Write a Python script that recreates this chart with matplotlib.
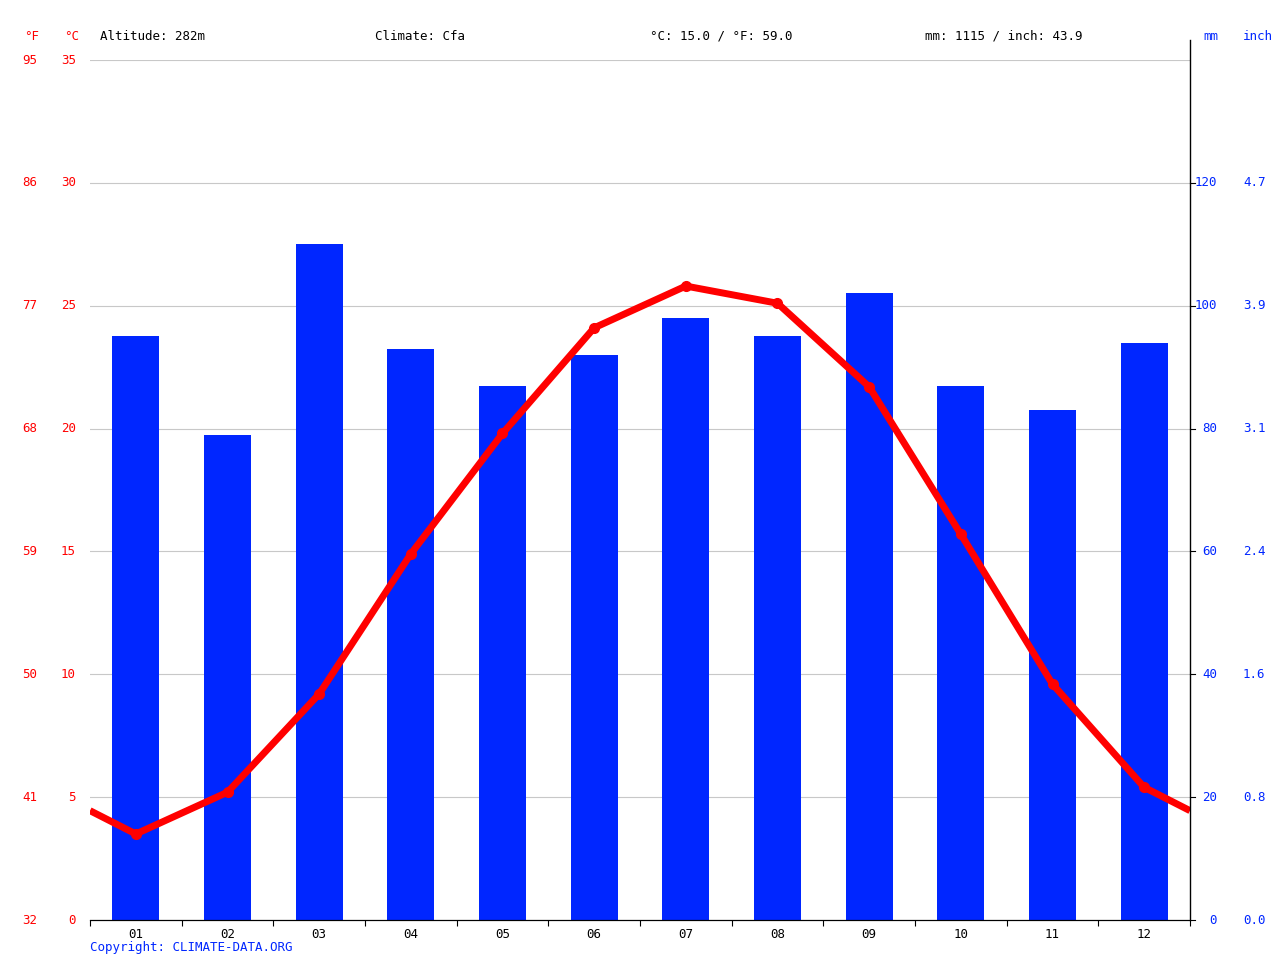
import matplotlib
matplotlib.use("Agg")
import matplotlib.pyplot as plt
import matplotlib.transforms as mtrans
import numpy as np

months = ["01","02","03","04","05","06","07","08","09","10","11","12"]
precip_mm = [95, 79, 110, 93, 87, 92, 98, 95, 102, 87, 83, 94]
temp_c = [3.5, 5.2, 9.2, 14.9, 19.8, 24.1, 25.8, 25.1, 21.7, 15.7, 9.6, 5.4]
c_ticks = [0, 5, 10, 15, 20, 25, 30, 35]
f_labels = ["32", "41", "50", "59", "68", "77", "86", "95"]
mm_ticks = [0, 20, 40, 60, 80, 100, 120]
inch_labels = ["0.0", "0.8", "1.6", "2.4", "3.1", "3.9", "4.7"]

plt.rcParams['font.family'] = ['DejaVu Sans Mono']
fig = plt.figure(figsize=(12.8, 9.6), dpi=100)
ax = fig.add_axes([90/1280, 40/960, 1100/1280, 860/960])
ax2 = ax.twinx()
ax.set_xlim(0, 12)
ax.set_ylim(0, 35)
ax2.set_ylim(0, 140)
x = np.arange(12) + 0.5
ax2.bar(x, precip_mm, width=0.51, color="#0026ff", zorder=2)
ax.set_zorder(ax2.get_zorder() + 1)
ax.patch.set_visible(False)
for c in c_ticks:
    ax2.axhline(c * 4, color="#c8c8c8", lw=0.8, zorder=1)
edge = (temp_c[0] + temp_c[-1]) / 2
ax.plot([0] + list(x) + [12], [edge] + temp_c + [edge], color="#ff0000", lw=5, zorder=3, solid_capstyle="butt")
ax.plot(x, temp_c, "o", color="#ff0000", ms=7, zorder=4)

for a in (ax, ax2):
    for s in ("top", "left"):
        a.spines[s].set_visible(False)
    a.spines["right"].set_visible(False)
    a.set_yticks([])
ax.spines["bottom"].set_color("black")
ax.set_xticks(range(13))
ax.set_xticklabels([])
ax.set_xticks(x, minor=True)
ax.set_xticklabels(months, minor=True, fontsize=9)
ax.tick_params(axis="x", which="minor", length=0, pad=6)
ax.tick_params(axis="x", which="major", length=4)

# right axis line
fig.add_artist(plt.Line2D([1190/1280]*2, [40/960, 1-40/960], color="black", lw=1))

tr = mtrans.blended_transform_factory(fig.transFigure, ax.transData)
for c, f in zip(c_ticks, f_labels):
    fig.text(37/1280, 0, f, transform=tr, color="red", fontsize=9, ha="right", va="center").set_y(c)
    fig.text(76/1280, 0, str(c), transform=tr, color="red", fontsize=9, ha="right", va="center").set_y(c)
tr2 = mtrans.blended_transform_factory(fig.transFigure, ax2.transData)
for m, i in zip(mm_ticks, inch_labels):
    t = fig.text(1217/1280, m, str(m), transform=tr2, color="#0026ff", fontsize=9, ha="right", va="center")
    fig.text(1243/1280, m, i, transform=tr2, color="#0026ff", fontsize=9, ha="left", va="center")
    ax2.plot([1.0, 1.005], [m, m], transform=ax2.get_yaxis_transform(), color="black", lw=0.8, clip_on=False)

ty = 1 - 36/960
fig.text(24/1280, ty, "°F", color="red", fontsize=9, va="center")
fig.text(64/1280, ty, "°C", color="red", fontsize=9, va="center")
fig.text(100/1280, ty, "Altitude: 282m", fontsize=9, va="center")
fig.text(375/1280, ty, "Climate: Cfa", fontsize=9, va="center")
fig.text(650/1280, ty, "°C: 15.0 / °F: 59.0", fontsize=9, va="center")
fig.text(925/1280, ty, "mm: 1115 / inch: 43.9", fontsize=9, va="center")
fig.text(1203/1280, ty, "mm", color="#0026ff", fontsize=9, va="center")
fig.text(1243/1280, ty, "inch", color="#0026ff", fontsize=9, va="center")
fig.text(90/1280, 1 - 948/960, "Copyright: CLIMATE-DATA.ORG", color="#0026ff", fontsize=9, va="center")
fig.savefig("out.png", dpi=100)
